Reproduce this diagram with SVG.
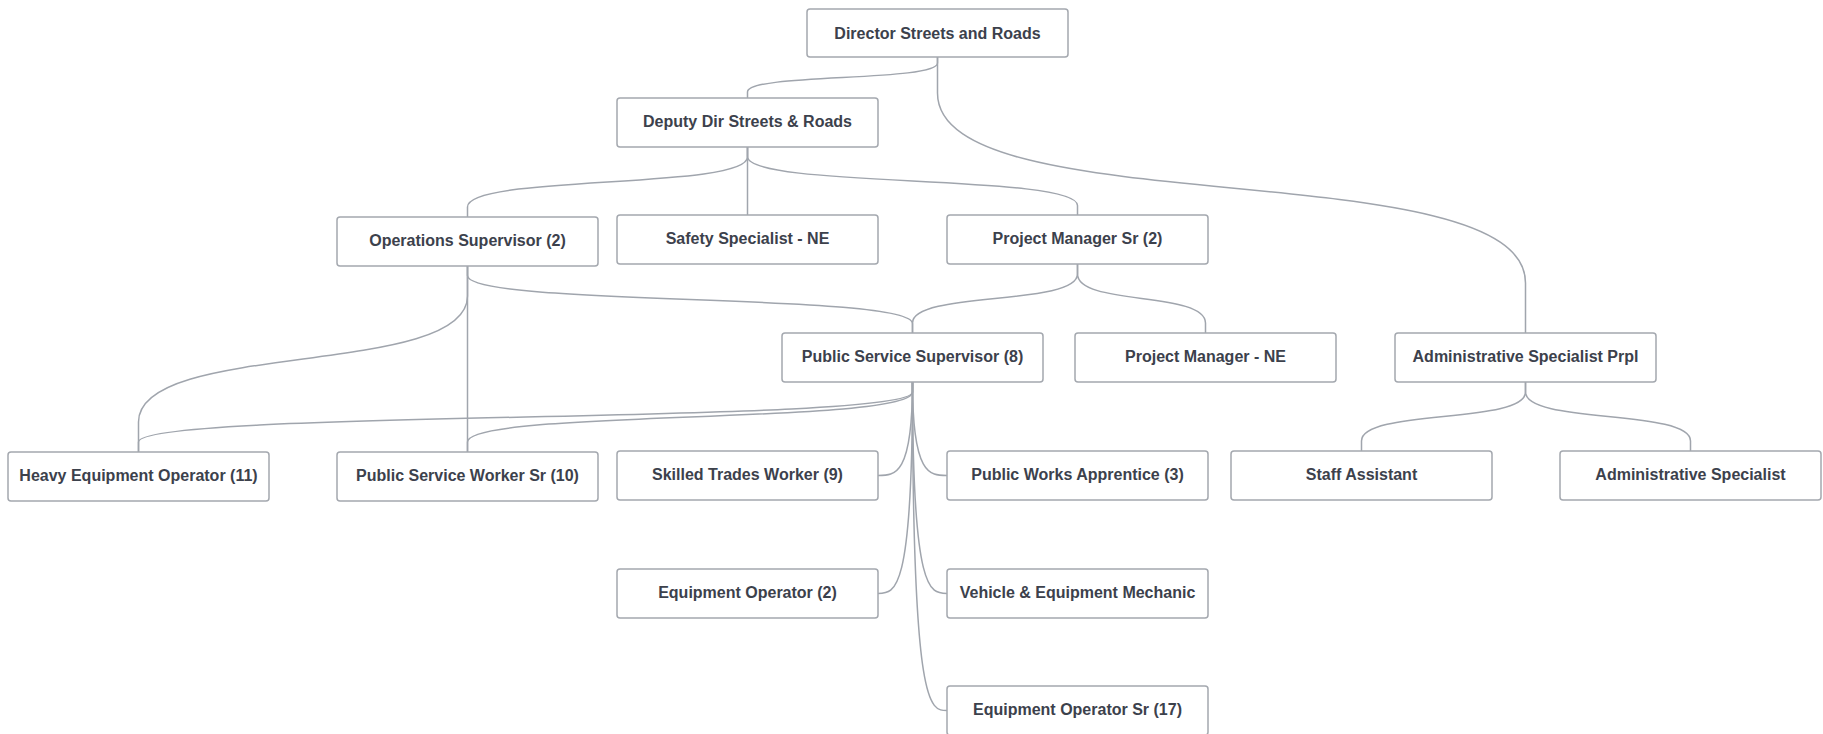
<svg xmlns="http://www.w3.org/2000/svg" width="1823" height="734" viewBox="0 0 1823 734">
  <style>
    .box { fill: #ffffff; stroke: #a4a8af; stroke-width: 1.5; }
    .lbl { font-family: "Liberation Sans", Arial, sans-serif; font-size: 16px; font-weight: bold; fill: #3c414c; text-anchor: middle; }
    .link { fill: none; stroke: #a0a5ad; stroke-width: 1.5; }
  </style>
  <rect width="1823" height="734" fill="#ffffff"/>

  <!-- reporting lines -->
  <g id="connectors">
    <path class="link" d="M937.5,57 V63 C937.5,82 747.5,73 747.5,92 V98"/>
    <path class="link" d="M937.5,57 V93 C937.5,226 1525.5,150 1525.5,283 V333"/>
    <path class="link" d="M747.5,147 V157 C747.5,189.5 467.5,174.5 467.5,207 V217"/>
    <path class="link" d="M747.5,147 V215"/>
    <path class="link" d="M747.5,147 V156.5 C747.5,188.4 1077.5,173.6 1077.5,205.5 V215"/>
    <path class="link" d="M467.5,266 V275.4 C467.5,306.7 912.5,292.3 912.5,323.6 V333"/>
    <path class="link" d="M467.5,266 V296 C467.5,378 138.5,340 138.5,422 V452"/>
    <path class="link" d="M467.5,266 V452"/>
    <path class="link" d="M1077.5,264 V274 C1077.5,306 912.5,291 912.5,323 V333"/>
    <path class="link" d="M1077.5,264 V274 C1077.5,306 1205.5,291 1205.5,323 V333"/>
    <path class="link" d="M912.5,382 V392 C912.5,424.5 138.5,409.5 138.5,442 V452"/>
    <path class="link" d="M912.5,382 V392 C912.5,424.5 467.5,409.5 467.5,442 V452"/>
    <path class="link" d="M1525.5,382 V392 C1525.5,424 1361.5,409 1361.5,441 V451"/>
    <path class="link" d="M1525.5,382 V392 C1525.5,424 1690.5,409 1690.5,441 V451"/>
    <path class="link" d="M912.5,382 C912.5,475.5 895.25,475.5 878,475.5"/>
    <path class="link" d="M912.5,382 C912.5,475.5 929.75,475.5 947,475.5"/>
    <path class="link" d="M912.5,382 C912.5,593.5 895.25,593.5 878,593.5"/>
    <path class="link" d="M912.5,382 C912.5,593.5 929.75,593.5 947,593.5"/>
    <path class="link" d="M912.5,382 C912.5,710.5 929.75,710.5 947,710.5"/>
  </g>

  <g id="director">
    <rect class="box" x="807" y="9" width="261" height="48" rx="3"/>
    <text class="lbl" x="937.5" y="38.5">Director Streets and Roads</text>
  </g>
  <g id="deputy">
    <rect class="box" x="617" y="98" width="261" height="49" rx="3"/>
    <text class="lbl" x="747.5" y="127">Deputy Dir Streets &amp; Roads</text>
  </g>
  <g id="ops-supervisor">
    <rect class="box" x="337" y="217" width="261" height="49" rx="3"/>
    <text class="lbl" x="467.5" y="246">Operations Supervisor (2)</text>
  </g>
  <g id="safety-specialist">
    <rect class="box" x="617" y="215" width="261" height="49" rx="3"/>
    <text class="lbl" x="747.5" y="244">Safety Specialist - NE</text>
  </g>
  <g id="project-manager-sr">
    <rect class="box" x="947" y="215" width="261" height="49" rx="3"/>
    <text class="lbl" x="1077.5" y="244">Project Manager Sr (2)</text>
  </g>
  <g id="ps-supervisor">
    <rect class="box" x="782" y="333" width="261" height="49" rx="3"/>
    <text class="lbl" x="912.5" y="362">Public Service Supervisor (8)</text>
  </g>
  <g id="project-manager-ne">
    <rect class="box" x="1075" y="333" width="261" height="49" rx="3"/>
    <text class="lbl" x="1205.5" y="362">Project Manager - NE</text>
  </g>
  <g id="admin-specialist-prpl">
    <rect class="box" x="1395" y="333" width="261" height="49" rx="3"/>
    <text class="lbl" x="1525.5" y="362">Administrative Specialist Prpl</text>
  </g>
  <g id="heavy-equipment-operator">
    <rect class="box" x="8" y="452" width="261" height="49" rx="3"/>
    <text class="lbl" x="138.5" y="481">Heavy Equipment Operator (11)</text>
  </g>
  <g id="ps-worker-sr">
    <rect class="box" x="337" y="452" width="261" height="49" rx="3"/>
    <text class="lbl" x="467.5" y="481">Public Service Worker Sr (10)</text>
  </g>
  <g id="skilled-trades-worker">
    <rect class="box" x="617" y="451" width="261" height="49" rx="3"/>
    <text class="lbl" x="747.5" y="480">Skilled Trades Worker (9)</text>
  </g>
  <g id="public-works-apprentice">
    <rect class="box" x="947" y="451" width="261" height="49" rx="3"/>
    <text class="lbl" x="1077.5" y="480">Public Works Apprentice (3)</text>
  </g>
  <g id="staff-assistant">
    <rect class="box" x="1231" y="451" width="261" height="49" rx="3"/>
    <text class="lbl" x="1361.5" y="480">Staff Assistant</text>
  </g>
  <g id="admin-specialist">
    <rect class="box" x="1560" y="451" width="261" height="49" rx="3"/>
    <text class="lbl" x="1690.5" y="480">Administrative Specialist</text>
  </g>
  <g id="equipment-operator">
    <rect class="box" x="617" y="569" width="261" height="49" rx="3"/>
    <text class="lbl" x="747.5" y="598">Equipment Operator (2)</text>
  </g>
  <g id="vehicle-mechanic">
    <rect class="box" x="947" y="569" width="261" height="49" rx="3"/>
    <text class="lbl" x="1077.5" y="598">Vehicle &amp; Equipment Mechanic</text>
  </g>
  <g id="equipment-operator-sr">
    <rect class="box" x="947" y="686" width="261" height="49" rx="3"/>
    <text class="lbl" x="1077.5" y="715">Equipment Operator Sr (17)</text>
  </g>
</svg>
